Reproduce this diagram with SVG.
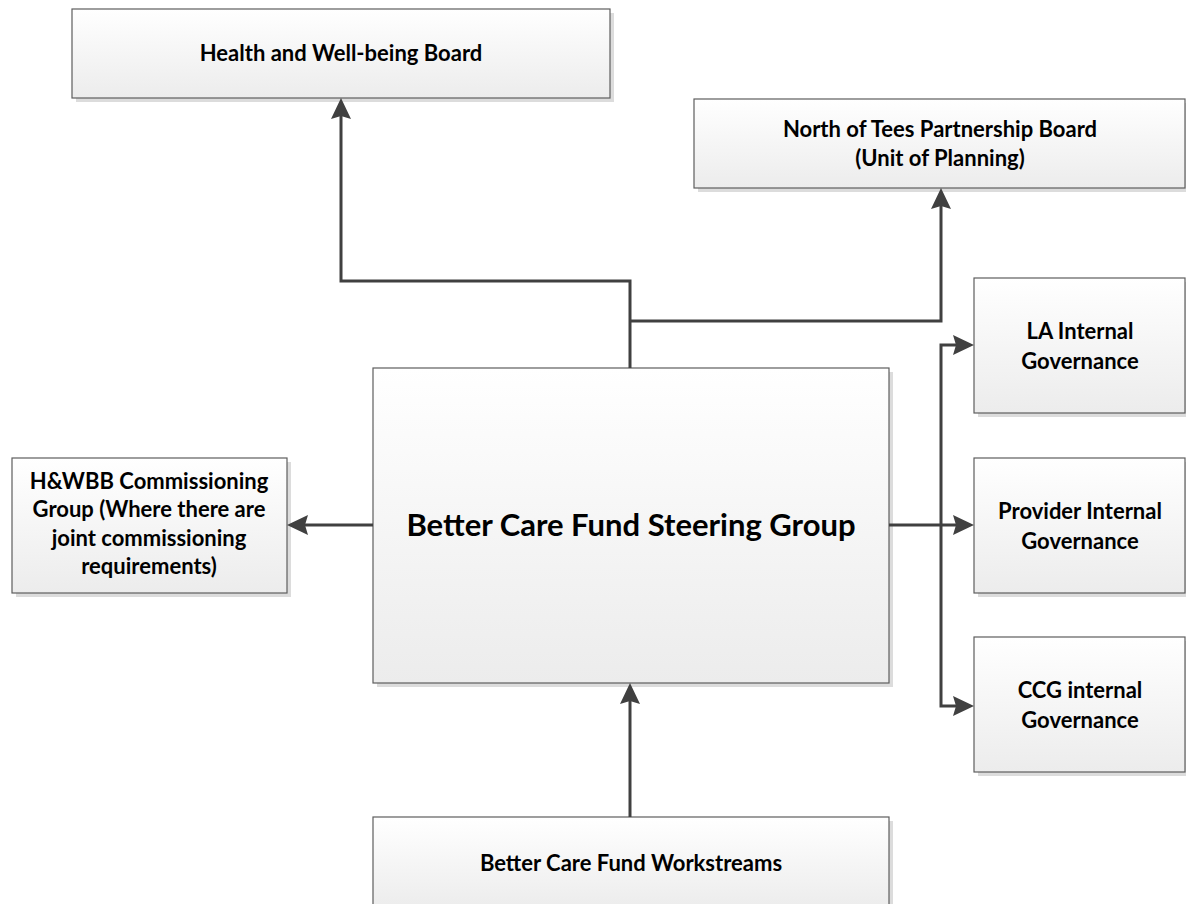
<svg xmlns="http://www.w3.org/2000/svg" width="1186" height="904" viewBox="0 0 1186 904">
<defs>
<linearGradient id="fill" x1="0" y1="0" x2="0" y2="1">
<stop offset="0" stop-color="#ffffff"/>
<stop offset="1" stop-color="#ececec"/>
</linearGradient>
<marker id="arr" markerUnits="userSpaceOnUse" markerWidth="24" markerHeight="22" refX="15" refY="10" orient="auto">
<path d="M0,0 L21,10 L0,20 L3,10 z" fill="#404040"/>
</marker>
</defs>
<style>
.shadow{fill:#dcdcdc}
.box{fill:url(#fill);stroke:#5e5e5e;stroke-width:1.2}
.t{font-family:Lato,"Liberation Sans",sans-serif;font-weight:bold;font-size:22px;fill:#000;text-anchor:middle}
.big{font-size:31px}
.conn{fill:none;stroke:#404040;stroke-width:3;marker-end:url(#arr)}
</style>
<rect width="1186" height="904" fill="#ffffff"/>
<g id="health">
<rect class="shadow" x="76" y="13" width="538" height="89"/>
<rect class="box" x="72" y="9" width="538" height="89"/>
<text class="t" x="341" y="61">Health and Well-being Board</text>
</g>
<g id="north">
<rect class="shadow" x="698" y="103" width="491" height="89"/>
<rect class="box" x="694" y="99" width="491" height="89"/>
<text class="t" x="940" y="137">North of Tees Partnership Board</text>
<text class="t" x="940" y="166">(Unit of Planning)</text>
</g>
<g id="la">
<rect class="shadow" x="978" y="282" width="211" height="135"/>
<rect class="box" x="974" y="278" width="211" height="135"/>
<text class="t" x="1080" y="339">LA Internal</text>
<text class="t" x="1080" y="369">Governance</text>
</g>
<g id="provider">
<rect class="shadow" x="978" y="462" width="211" height="135"/>
<rect class="box" x="974" y="458" width="211" height="135"/>
<text class="t" x="1080" y="519">Provider Internal</text>
<text class="t" x="1080" y="549">Governance</text>
</g>
<g id="ccg">
<rect class="shadow" x="978" y="641" width="211" height="135"/>
<rect class="box" x="974" y="637" width="211" height="135"/>
<text class="t" x="1080" y="698">CCG internal</text>
<text class="t" x="1080" y="728">Governance</text>
</g>
<g id="hwbb">
<rect class="shadow" x="16" y="462" width="275" height="135"/>
<rect class="box" x="12" y="458" width="275" height="135"/>
<text class="t" x="149" y="489">H&amp;WBB Commissioning</text>
<text class="t" x="149" y="517">Group (Where there are</text>
<text class="t" x="149" y="546">joint commissioning</text>
<text class="t" x="149" y="574">requirements)</text>
</g>
<g id="steering">
<rect class="shadow" x="377" y="372" width="516" height="315"/>
<rect class="box" x="373" y="368" width="516" height="315"/>
<text class="t big" x="631" y="536">Better Care Fund Steering Group</text>
</g>
<g id="workstreams">
<rect class="shadow" x="377" y="821" width="516" height="92"/>
<rect class="box" x="373" y="817" width="516" height="92"/>
<text class="t" x="631" y="871">Better Care Fund Workstreams</text>
</g>
<g id="connectors">
<path class="conn" d="M630,368 V281 H341 V104"/>
<path class="conn" d="M630,321 H941 V194"/>
<path class="conn" d="M889,525 H968"/>
<path class="conn" d="M941,525 V345 H968"/>
<path class="conn" d="M941,525 V706 H968"/>
<path class="conn" d="M373,525 H293"/>
<path class="conn" d="M630,817 V689"/>
</g>
</svg>
